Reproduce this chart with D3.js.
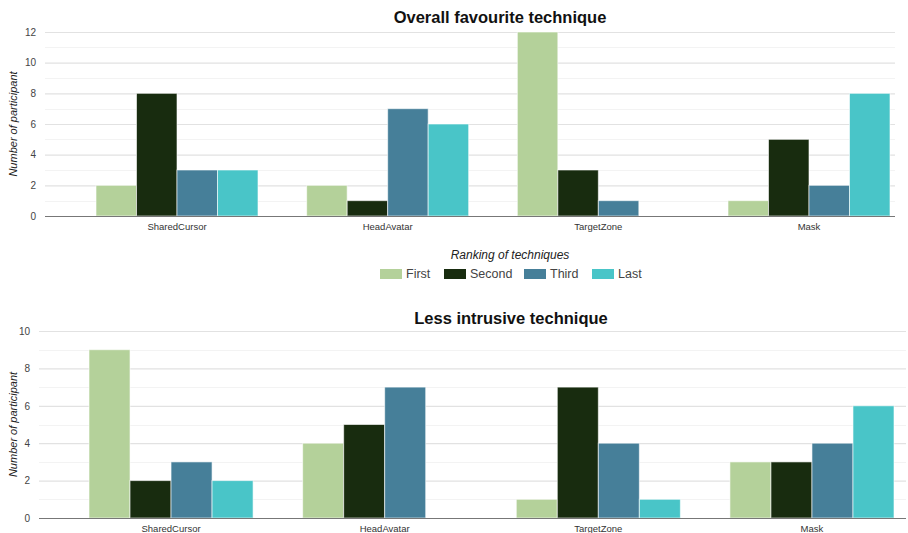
<!DOCTYPE html>
<html>
<head>
<meta charset="utf-8">
<script src="https://cdn.jsdelivr.net/npm/d3@7"></script>
<style>
  html, body { margin: 0; padding: 0; background: #fff; }
  svg { display: block; font-family: Arial, "Liberation Sans", sans-serif; }
</style>
</head>
<body>
<svg id="chart" width="908" height="533"></svg>
<script>
// Techniques and ranking levels
const techniques = ["SharedCursor", "HeadAvatar", "TargetZone", "Mask"];
const rankings = ["First", "Second", "Third", "Last"];
const rankColors = ["#b4d19a", "#182c0f", "#467f99", "#49c5c8"];

// Counts per technique, one value per ranking (First, Second, Third, Last)
const favouriteCounts = [
  [2, 8, 3, 3],
  [2, 1, 7, 6],
  [12, 3, 1, 0],
  [1, 5, 2, 8]
];
const favouriteTicks = [0, 2, 4, 6, 8, 10, 12];

const intrusiveCounts = [
  [9, 2, 3, 2],
  [4, 5, 7, 0],
  [1, 7, 4, 1],
  [3, 3, 4, 6]
];
const intrusiveTicks = [0, 2, 4, 6, 8, 10];

const svg = d3.select("#chart");
const color = d3.scaleOrdinal().domain(rankings).range(rankColors);

function drawChart(cfg) {
  const g = svg.append("g");
  const y = d3.scaleLinear().domain([0, cfg.yMax]).range([cfg.y0, cfg.y1]);
  const x0 = d3.scaleBand().domain(techniques)
    .range(cfg.bandRange).paddingInner(cfg.padInner).paddingOuter(0);
  const x1 = d3.scaleBand().domain(rankings).range([0, x0.bandwidth()]).padding(0);

  // minor gridlines (odd values)
  g.append("g").selectAll("line")
    .data(d3.range(1, cfg.yMax, 2))
    .join("line")
    .attr("x1", cfg.left).attr("x2", cfg.right)
    .attr("y1", d => Math.round(y(d)) + 0.5).attr("y2", d => Math.round(y(d)) + 0.5)
    .attr("stroke", "#f3f3f3").attr("stroke-width", 1);

  // major gridlines + tick labels
  const yAxis = d3.axisLeft(y).tickValues(cfg.ticks)
    .tickSize(-(cfg.right - cfg.left)).tickPadding(9);
  const ax = g.append("g")
    .attr("transform", `translate(${cfg.left},0)`)
    .call(yAxis);
  ax.select(".domain").remove();
  ax.selectAll(".tick line").attr("stroke", "#e2e2e2").attr("stroke-width", 1.2);
  ax.selectAll(".tick text").attr("fill", "#444").attr("font-size", 10)
    .attr("font-family", "Arial, 'Liberation Sans', sans-serif");

  // bars
  const groups = g.append("g").selectAll("g")
    .data(cfg.data.map((vals, i) => ({ tech: techniques[i], vals })))
    .join("g")
    .attr("transform", d => `translate(${x0(d.tech)},0)`);
  groups.selectAll("rect")
    .data(d => d.vals.map((v, j) => ({ rank: rankings[j], v })))
    .join("rect")
    .attr("x", d => x1(d.rank))
    .attr("width", x1.bandwidth())
    .attr("y", d => y(d.v))
    .attr("height", d => y(0) - y(d.v))
    .attr("fill", d => color(d.rank))
    .attr("stroke", "#ffffff")
    .attr("stroke-opacity", 0.6)
    .attr("stroke-width", 1);

  // baseline
  g.append("line")
    .attr("x1", cfg.left).attr("x2", cfg.right)
    .attr("y1", y(0) + 0.5).attr("y2", y(0) + 0.5)
    .attr("stroke", "#777").attr("stroke-width", 1.2);

  // category labels
  const xAxis = d3.axisBottom(x0).tickSize(0).tickPadding(7);
  const xa = g.append("g").attr("transform", `translate(0,${y(0)})`).call(xAxis);
  xa.select(".domain").remove();
  xa.selectAll(".tick text").attr("fill", "#333").attr("font-size", 9.5)
    .attr("font-family", "Arial, 'Liberation Sans', sans-serif");

  // title
  g.append("text")
    .attr("x", cfg.titleX).attr("y", cfg.titleY)
    .attr("text-anchor", "middle")
    .attr("font-size", 16.5).attr("font-weight", "bold").attr("fill", "#111")
    .text(cfg.title);

  // y-axis title
  g.append("text")
    .attr("transform", `translate(17,${(cfg.y0 + cfg.y1) / 2}) rotate(-90)`)
    .attr("text-anchor", "middle")
    .attr("font-size", 11).attr("font-style", "italic").attr("fill", "#222")
    .text("Number of participant");
}

drawChart({
  data: favouriteCounts, ticks: favouriteTicks, yMax: 12,
  y0: 216, y1: 32, left: 45, right: 895,
  bandRange: [96, 890], padInner: 0.231,
  title: "Overall favourite technique", titleX: 500, titleY: 23
});

drawChart({
  data: intrusiveCounts, ticks: intrusiveTicks, yMax: 10,
  y0: 518, y1: 331, left: 39, right: 906,
  bandRange: [89, 894], padInner: 0.232,
  title: "Less intrusive technique", titleX: 511, titleY: 324
});

// shared legend
const legend = svg.append("g");
legend.append("text")
  .attr("x", 510).attr("y", 259)
  .attr("text-anchor", "middle")
  .attr("font-size", 12).attr("font-style", "italic").attr("fill", "#222")
  .text("Ranking of techniques");

const legendX = [380, 444, 524, 592];
const items = legend.selectAll("g.item")
  .data(rankings)
  .join("g")
  .attr("class", "item")
  .attr("transform", (d, i) => `translate(${legendX[i]},269)`);
items.append("rect")
  .attr("width", 22).attr("height", 10)
  .attr("fill", d => color(d));
items.append("text")
  .attr("x", 26).attr("y", 9)
  .attr("font-size", 12.5).attr("fill", "#444")
  .text(d => d);
</script>
</body>
</html>
